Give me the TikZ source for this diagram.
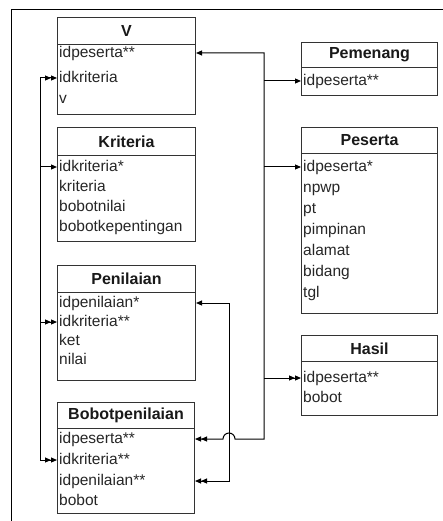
\documentclass[tikz,border=0pt]{standalone}
\usepackage{fontspec}
\setmainfont{Liberation Sans}
\usetikzlibrary{arrows.meta}
\begin{document}
\begin{tikzpicture}[x=1bp,y=-1bp,
  frame/.style={draw=black,line width=1bp},
  headbox/.style={draw=black!80,line width=1bp,anchor=north west,inner sep=0pt,
    font=\fontsize{16bp}{18bp}\selectfont\bfseries,text=black!90},
  bodybox/.style={draw=black!80,line width=1bp,anchor=north west,inner sep=0pt},
  field/.style={anchor=west,inner sep=0pt,text height=12bp,text depth=3.5bp,
    font=\fontsize{15.5bp}{18bp}\selectfont,text=black!85},
  link/.style={draw=black,line width=1bp},
  one/.style={link,-{Triangle[length=6bp,width=5bp]}},
  two/.style={link,-{Triangle[length=6bp,width=5bp]Triangle[length=6bp,width=5bp]}}
]
\useasboundingbox (0,0) rectangle (443,521);

% page frame
\draw[frame] (11,521) -- (11,10) -- (443,10);

% ---- V
\node[headbox,minimum width=138bp,minimum height=27bp] (vH) at (57,17) {V};
\node[bodybox,minimum width=138bp,minimum height=70bp] (vB) at (57,44) {};
\node[field] (vR1) at (59,53) {idpeserta**};
\node[field] (vR2) at (59,78) {idkriteria};
\node[field] (vR3) at (59,99) {v};

% ---- Kriteria
\node[headbox,minimum width=138bp,minimum height=28bp] (kH) at (57,127) {Kriteria};
\node[bodybox,minimum width=138bp,minimum height=86bp] (kB) at (57,155) {};
\node[field] (kR1) at (59,167) {idkriteria*};
\node[field] (kR2) at (59,187) {kriteria};
\node[field] (kR3) at (59,207) {bobotnilai};
\node[field] (kR4) at (59,227) {bobotkepentingan};

% ---- Penilaian
\node[headbox,minimum width=138bp,minimum height=27bp] (pH) at (57,265) {Penilaian};
\node[bodybox,minimum width=138bp,minimum height=88bp] (pB) at (57,292) {};
\node[field] (pR1) at (59,303) {idpenilaian*};
\node[field] (pR2) at (59,322) {idkriteria**};
\node[field] (pR3) at (59,341) {ket};
\node[field] (pR4) at (59,360) {nilai};

% ---- Bobotpenilaian
\node[headbox,minimum width=137bp,minimum height=26bp] (bH) at (57,402) {Bobotpenilaian};
\node[bodybox,minimum width=137bp,minimum height=85bp] (bB) at (57,428) {};
\node[field] (bR1) at (59,439) {idpeserta**};
\node[field] (bR2) at (59,460) {idkriteria**};
\node[field] (bR3) at (59,481) {idpenilaian**};
\node[field] (bR4) at (59,501) {bobot};

% ---- Pemenang
\node[headbox,minimum width=136bp,minimum height=25bp] (mH) at (301,42) {Pemenang};
\node[bodybox,minimum width=136bp,minimum height=28bp] (mB) at (301,67) {};
\node[field] (mR1) at (303,81) {idpeserta**};

% ---- Peserta
\node[headbox,minimum width=136bp,minimum height=26bp] (sH) at (301,127) {Peserta};
\node[bodybox,minimum width=136bp,minimum height=160bp] (sB) at (301,153) {};
\node[field] (sR1) at (303,167) {idpeserta*};
\node[field] (sR2) at (303,188) {npwp};
\node[field] (sR3) at (303,209) {pt};
\node[field] (sR4) at (303,230) {pimpinan};
\node[field] (sR5) at (303,251) {alamat};
\node[field] (sR6) at (303,272) {bidang};
\node[field] (sR7) at (303,293) {tgl};

% ---- Hasil
\node[headbox,minimum width=136bp,minimum height=26bp] (hH) at (301,335) {Hasil};
\node[bodybox,minimum width=136bp,minimum height=54bp] (hB) at (301,361) {};
\node[field] (hR1) at (303,378) {idpeserta**};
\node[field] (hR2) at (303,398) {bobot};

% bus lines
\coordinate (lbx) at (40,0);
\coordinate (rbx) at (264,0);
\coordinate (plx) at (229,0);

% idkriteria links on the left
\draw[link,{Triangle[length=6bp,width=5bp]Triangle[length=6bp,width=5bp]}-{Triangle[length=6bp,width=5bp]Triangle[length=6bp,width=5bp]}]
  (vR2 -| vB.west) -- (vR2 -| lbx) -- (bR2 -| lbx) -- (bR2 -| bB.west);
\draw[one] (kR1 -| lbx) -- (kR1 -| kB.west);
\draw[two] (pR2 -| lbx) -- (pR2 -| pB.west);

% idpenilaian link
\draw[link,{Triangle[length=6bp,width=5bp]}-{Triangle[length=6bp,width=5bp]Triangle[length=6bp,width=5bp]}]
  (pR1 -| pB.east) -- (pR1 -| plx) -- (bR3 -| plx) -- (bR3 -| bB.east);

% idpeserta links on the right, hopping over the idpenilaian line
\draw[link,{Triangle[length=6bp,width=5bp]}-{Triangle[length=6bp,width=5bp]Triangle[length=6bp,width=5bp]}]
  (vR1 -| vB.east) -- (vR1 -| rbx) -- (bR1 -| rbx)
  -- ([xshift=6bp]bR1 -| plx) arc[start angle=0,end angle=180,radius=6bp]
  -- (bR1 -| bB.east);
\draw[one] (mR1 -| rbx) -- (mR1 -| mB.west);
\draw[one] (sR1 -| rbx) -- (sR1 -| sB.west);
\draw[two] (hR1 -| rbx) -- (hR1 -| hB.west);
\end{tikzpicture}
\end{document}
